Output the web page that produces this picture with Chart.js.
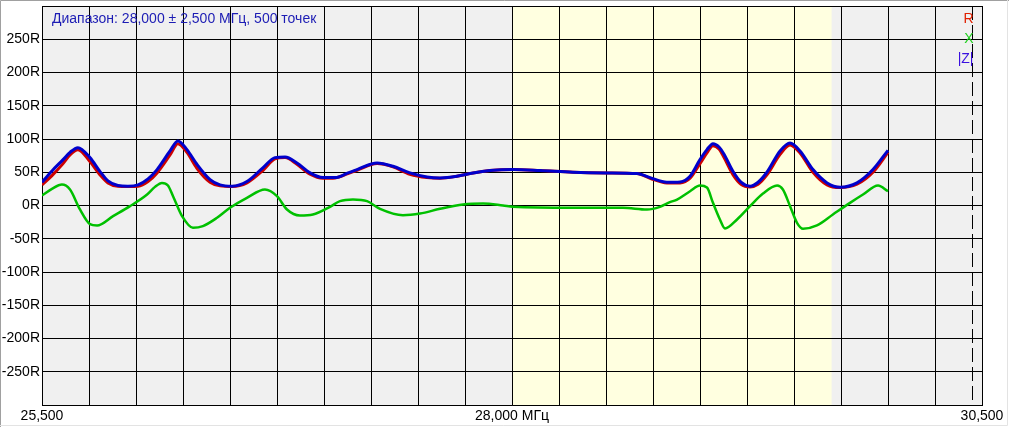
<!DOCTYPE html>
<html>
<head>
<meta charset="utf-8">
<script src="https://cdn.jsdelivr.net/npm/chart.js@4"></script>
<style>
  html, body { margin: 0; padding: 0; background: #fff; }
  canvas { display: block; }
</style>
</head>
<body>
<canvas id="chart" width="1009" height="427"></canvas>
<script>
// frequencies in MHz, values in ohms
var zFreq = [25.500, 25.553, 25.612, 25.649, 25.691, 25.755, 25.809, 25.851, 25.904, 25.957, 26.011, 26.064, 26.112, 26.181, 26.223, 26.271, 26.324, 26.394, 26.447, 26.511, 26.590, 26.676, 26.739, 26.793, 26.856, 26.926, 26.995, 27.059, 27.128, 27.176, 27.282, 27.367, 27.457, 27.548, 27.617, 27.707, 27.793, 27.883, 28.005, 28.149, 28.324, 28.505, 28.665, 28.734, 28.824, 28.894, 28.947, 29.000, 29.037, 29.069, 29.101, 29.128, 29.176, 29.218, 29.266, 29.309, 29.356, 29.426, 29.479, 29.532, 29.601, 29.676, 29.745, 29.835, 29.920, 30.000];
var zVals = [35, 52, 69, 80, 87, 72, 51, 37, 30, 29, 31, 40, 54, 82, 97, 84, 62, 39, 31, 29, 36, 57, 72, 73, 64, 49, 42, 42, 49, 54, 64, 59, 49, 43, 41.5, 44, 49, 52.5, 54, 52.5, 50, 49, 48, 42, 35, 35.5, 44, 69, 84, 93, 88, 77, 51, 35, 29, 35, 50, 82, 94, 82, 54, 34, 27.5, 34, 54, 83];
var rVals = [31, 45, 63, 76, 84, 66, 46, 34, 29, 28.5, 29, 36, 49, 76, 93, 80, 56, 35, 29.5, 28.5, 34, 53, 70, 72, 62, 47, 41, 41.5, 48, 53, 63, 58, 47, 42, 41, 44, 49, 52.5, 54, 52.5, 50, 49, 48, 41, 34, 34, 41, 63, 79, 90, 85, 72, 46, 32, 28, 32, 46, 77, 91, 79, 50, 31, 27, 32, 50, 80];
var xFreq = [25.500, 25.553, 25.606, 25.649, 25.702, 25.755, 25.793, 25.878, 25.968, 26.059, 26.101, 26.138, 26.170, 26.197, 26.245, 26.303, 26.356, 26.431, 26.500, 26.590, 26.686, 26.750, 26.803, 26.872, 26.941, 27.032, 27.085, 27.154, 27.229, 27.298, 27.420, 27.511, 27.617, 27.739, 27.846, 27.952, 28.005, 28.324, 28.590, 28.718, 28.787, 28.840, 28.878, 28.947, 29.000, 29.037, 29.069, 29.106, 29.133, 29.197, 29.266, 29.335, 29.410, 29.441, 29.479, 29.516, 29.548, 29.622, 29.707, 29.798, 29.867, 29.947, 30.000];
var xVals = [15, 25, 31.5, 24, -6, -28, -30, -16, -1, 16.5, 28, 34, 30, 14, -16, -33.5, -31, -18.5, -3.5, 11.5, 24, 14, -6, -15, -13.5, -2, 6.5, 9, 6.5, -5, -14.5, -12, -5, 1.5, 3, 0, -2, -3.5, -3.5, -6, -2, 5, 9, 21.5, 30, 27, 4, -21, -34.5, -21, -1, 18, 30, 24, -1, -26, -35, -30, -13.5, 4, 16.5, 30, 21.5];

var bandStart = 28.0, bandEnd = 29.7;
var markerFreq = 30.447;
var titleText = 'Диапазон: 28,000 ± 2,500 МГц, 500 точек';
var xLabels = { '25.5': '25,500', '28': '28,000 МГц', '30.5': '30,500' };

function pts(f, v) {
    return f.map(function (x, i) { return { x: x, y: v[i] }; });
}

var font = "'Liberation Sans', Arial, sans-serif";

var decor = {
    id: 'decor',
    beforeDraw: function (chart) {
        var c = chart.ctx, a = chart.chartArea, xs = chart.scales.x;
        c.save();
        c.fillStyle = '#fff';
        c.fillRect(0, 0, chart.width, chart.height);
        c.fillStyle = '#f0f0f0';
        c.fillRect(a.left, a.top, a.right - a.left, a.bottom - a.top);
        c.fillStyle = '#ffffe0';
        var b0 = xs.getPixelForValue(bandStart), b1 = xs.getPixelForValue(bandEnd);
        c.fillRect(b0, a.top, b1 - b0, a.bottom - a.top);
        // window frame
        c.strokeStyle = '#a0a0a0';
        c.lineWidth = 1;
        c.beginPath();
        c.moveTo(0.5, chart.height); c.lineTo(0.5, 0.5); c.lineTo(chart.width, 0.5);
        c.stroke();
        c.strokeStyle = '#e3e3e3';
        c.beginPath();
        c.moveTo(chart.width - 1.5, 0); c.lineTo(chart.width - 1.5, chart.height - 1.5); c.lineTo(0, chart.height - 1.5);
        c.stroke();
        c.restore();
    },
    afterDraw: function (chart) {
        var c = chart.ctx, a = chart.chartArea, xs = chart.scales.x;
        c.save();
        var mx = Math.round(xs.getPixelForValue(markerFreq)) + 0.5;
        c.strokeStyle = '#000';
        c.lineWidth = 1;
        c.setLineDash([14, 5]);
        c.beginPath();
        c.moveTo(mx, a.top);
        c.lineTo(mx, a.bottom);
        c.stroke();
        c.setLineDash([]);
        c.font = '14px ' + font;
        c.textBaseline = 'middle';
        c.textAlign = 'left';
        c.fillStyle = '#1c1cb4';
        c.fillText(titleText, 52, 19);
        c.textAlign = 'right';
        c.fillStyle = '#e02000';
        c.fillText('R', mx + 1, 19);
        c.fillStyle = '#20d020';
        c.fillText('X', mx + 1, 39);
        c.fillStyle = '#3a10e0';
        c.fillText('|Z|', mx + 1, 59);
        c.restore();
    }
};

new Chart(document.getElementById('chart'), {
    type: 'scatter',
    data: {
        datasets: [
            { label: '|Z|', data: pts(zFreq, zVals), borderColor: '#0000cc', borderWidth: 3, order: 1 },
            { label: 'R', data: pts(zFreq, rVals), borderColor: '#cc0000', borderWidth: 3, order: 2 },
            { label: 'X', data: pts(xFreq, xVals), borderColor: '#00c000', borderWidth: 2.5, order: 3 }
        ]
    },
    options: {
        responsive: false,
        animation: false,
        showLine: true,
        elements: {
            point: { radius: 0, hoverRadius: 0 },
            line: { cubicInterpolationMode: 'monotone', fill: false }
        },
        layout: { padding: { top: 6, right: 27, left: 0, bottom: 0 } },
        plugins: { legend: { display: false }, tooltip: { enabled: false } },
        scales: {
            x: {
                type: 'linear',
                min: 25.5,
                max: 30.5,
                afterFit: function (s) { s.height = 22; s.paddingLeft = 0; s.paddingRight = 0; },
                grid: { color: '#000', lineWidth: 1, drawTicks: false },
                border: { color: '#000' },
                ticks: {
                    stepSize: 0.25,
                    autoSkip: false,
                    maxRotation: 0,
                    padding: 3,
                    color: '#000',
                    font: { family: font, size: 14 },
                    callback: function (v) { return xLabels[String(v)] || ''; }
                }
            },
            y: {
                min: -300,
                max: 300,
                afterFit: function (s) { s.width = 42; s.paddingTop = 0; s.paddingBottom = 0; },
                grid: { color: '#000', lineWidth: 1, drawTicks: false },
                border: { color: '#000' },
                ticks: {
                    stepSize: 50,
                    padding: 2,
                    color: '#000',
                    font: { family: font, size: 14 },
                    callback: function (v) { return Math.abs(v) === 300 ? '' : v + 'R'; }
                }
            }
        }
    },
    plugins: [decor]
});
</script>
</body>
</html>
